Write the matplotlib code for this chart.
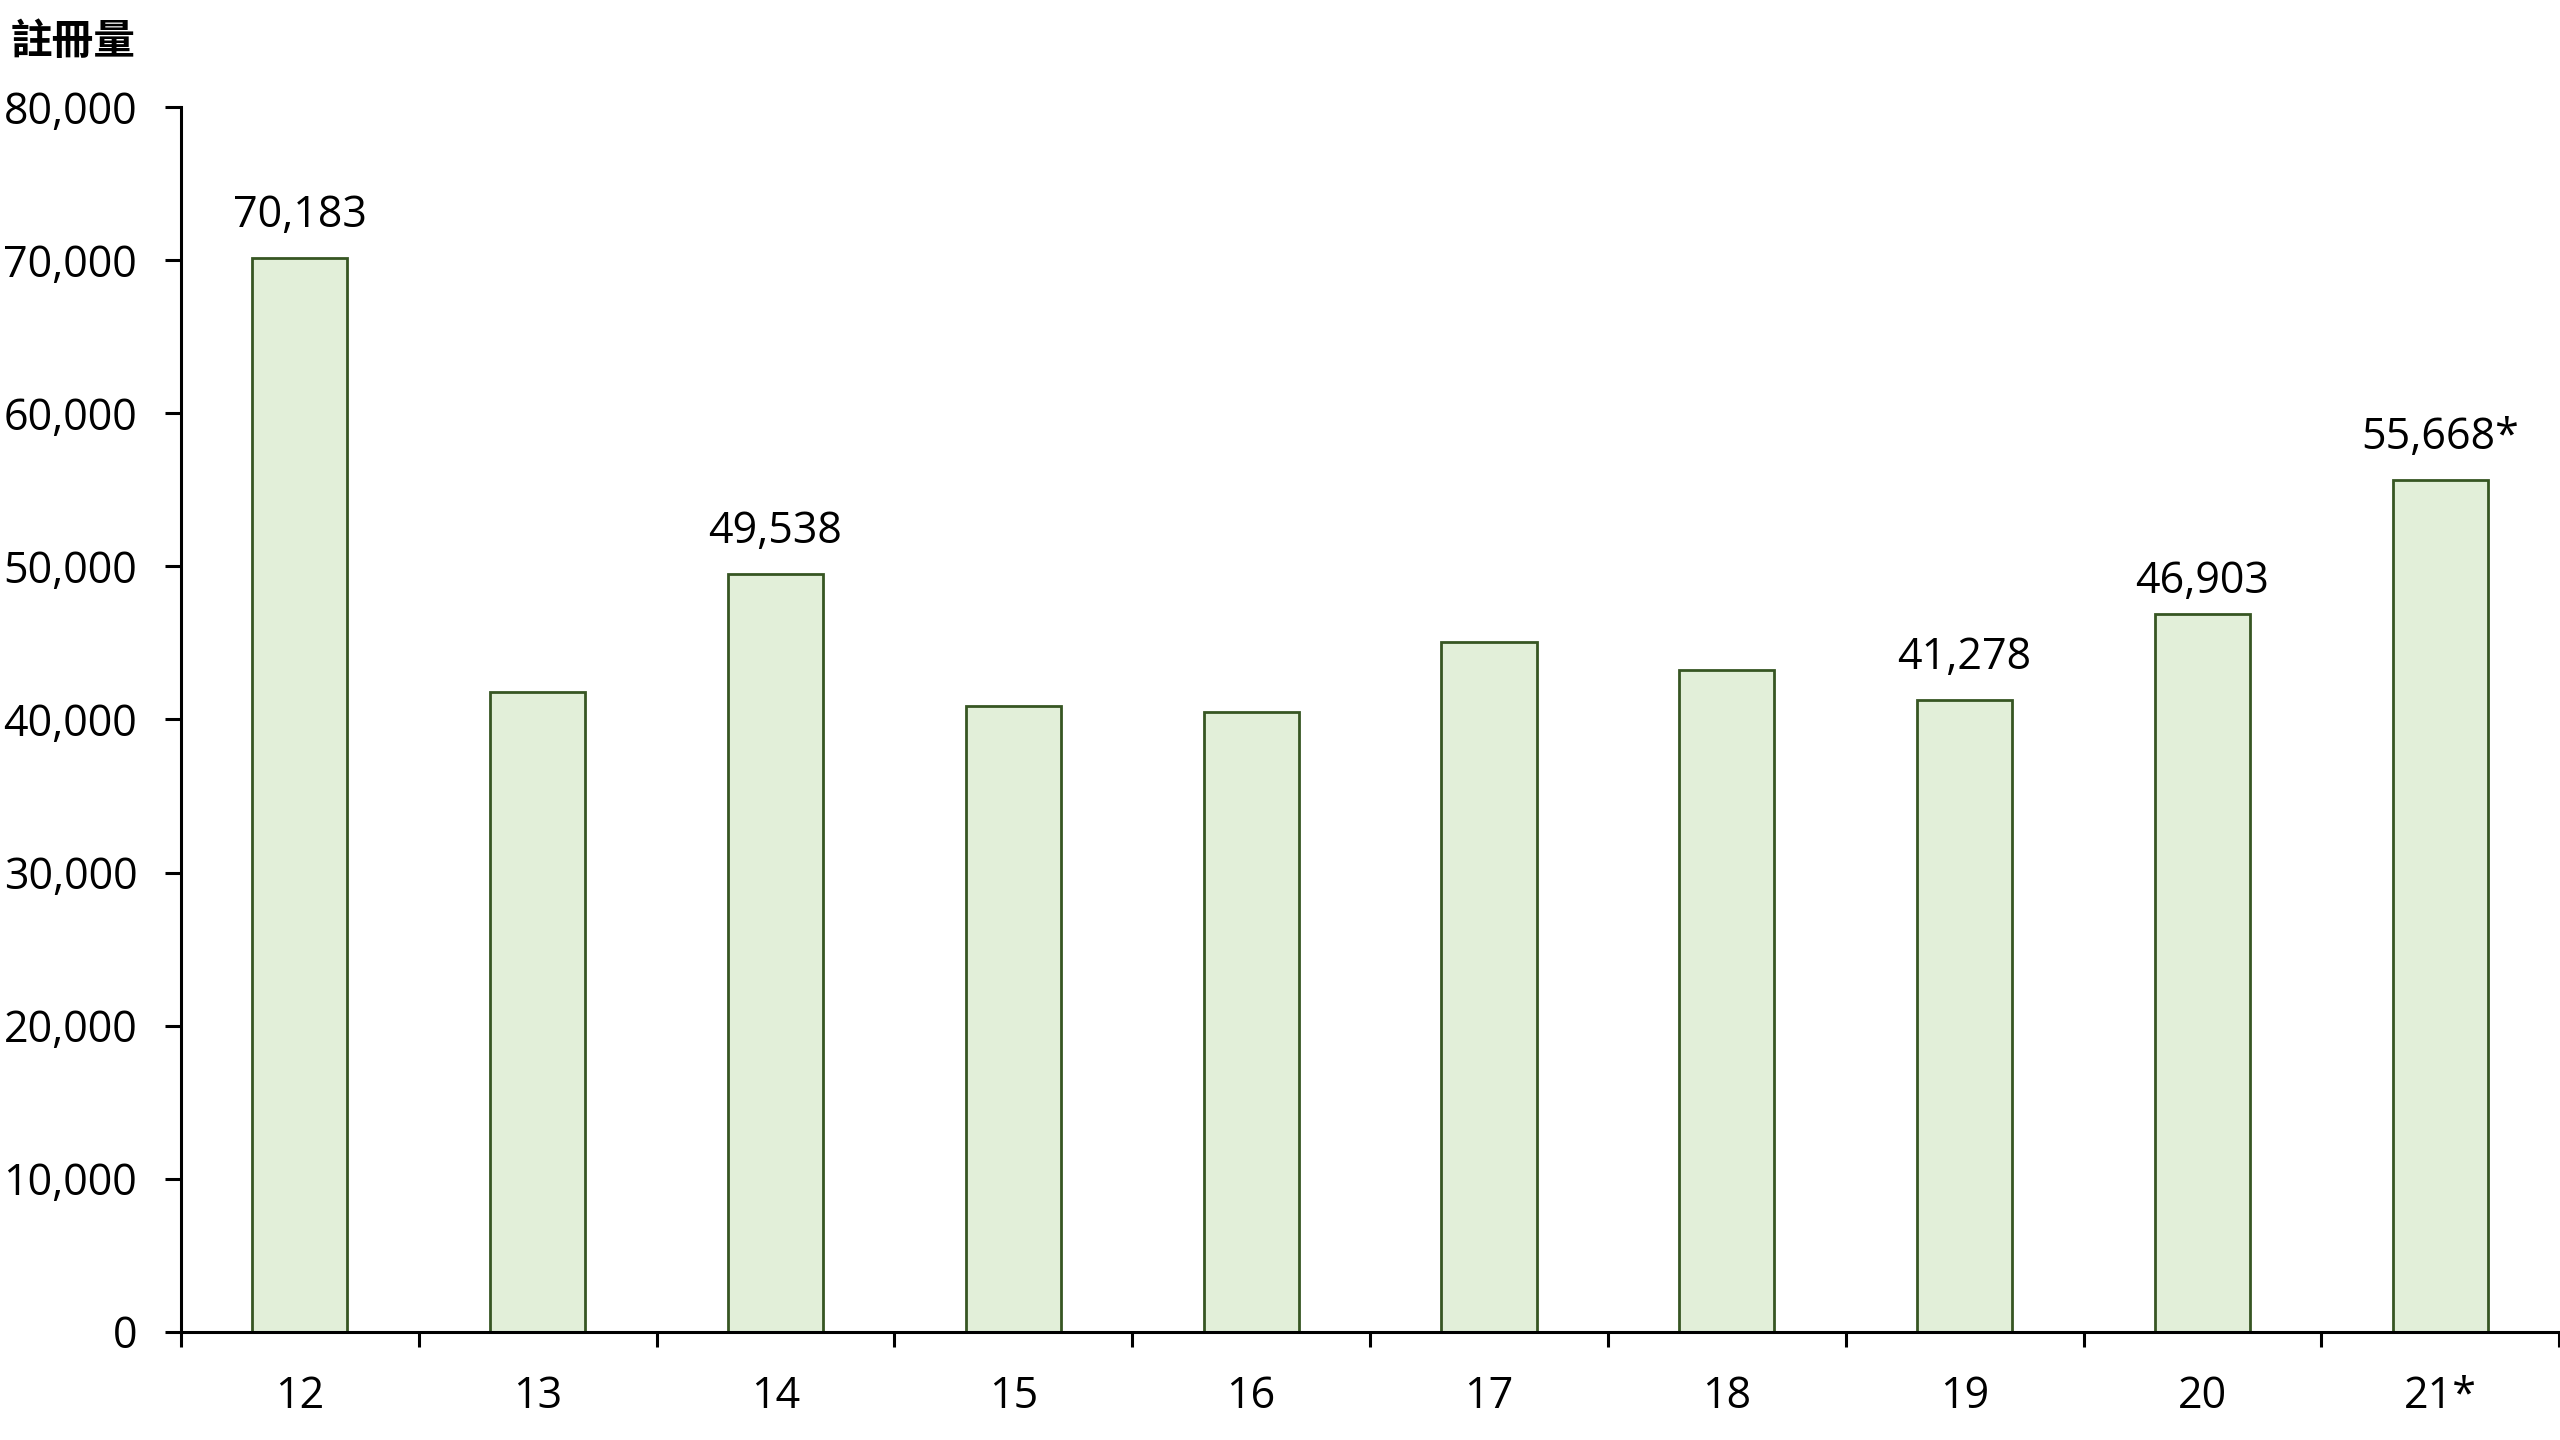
import matplotlib
matplotlib.use("Agg")
import matplotlib.pyplot as plt
from matplotlib.ticker import FuncFormatter, FixedLocator

FILL = "#e2efd9"
EDGE = "#375623"

years = ["12", "13", "14", "15", "16", "17", "18", "19", "20", "21*"]
registrations = [70183, 41776, 49538, 40860, 40470, 45080, 43250, 41278, 46903, 55668]
bar_labels = ["70,183", "", "49,538", "", "", "", "", "41,278", "46,903", "55,668*"]
y_ticks = [0, 10000, 20000, 30000, 40000, 50000, 60000, 70000, 80000]
y_title = "註冊量"

plt.rcParams["font.family"] = ["Open Sans", "DejaVu Sans"]

fig = plt.figure(figsize=(25.6, 14.4), dpi=100)
ax = fig.add_axes([0.0707, 0.0752, 0.9290, 0.8503])

xs = list(range(len(years)))
ax.bar(xs, registrations, width=0.4, color=FILL, edgecolor=EDGE, linewidth=2, zorder=2)

# the label over "20" sits a little closer to its bar in the original
label_gap = {8: 15}
for x, v, lab in zip(xs, registrations, bar_labels):
    if lab:
        ax.annotate(lab, (x, v), xytext=(0, label_gap.get(x, 22)), textcoords="offset points",
                    ha="center", va="baseline", fontsize=31, color="black")

ax.set_xlim(-0.5, len(years) - 0.5)
ax.set_ylim(0, 80000)

# category boundaries carry the tick marks, labels sit at the centres
ax.xaxis.set_major_locator(FixedLocator([i - 0.5 for i in range(len(years) + 1)]))
ax.xaxis.set_minor_locator(FixedLocator(xs))
ax.set_xticklabels([""] * (len(years) + 1))
ax.set_xticklabels(years, minor=True)
ax.tick_params(axis="x", which="major", direction="out", length=11, width=2.2, color="black")
ax.tick_params(axis="x", which="minor", length=0, pad=31, labelsize=31)

ax.set_yticks(y_ticks)
ax.yaxis.set_major_formatter(FuncFormatter(lambda v, _: f"{int(v):,}"))
ax.tick_params(axis="y", direction="out", length=11.5, width=2.2, pad=20, labelsize=31)

for side in ("top", "right"):
    ax.spines[side].set_visible(False)
for side in ("left", "bottom"):
    ax.spines[side].set_linewidth(2.2)
    ax.spines[side].set_color("black")

fig.text(11 / 2560, 1 - 42 / 1440, y_title, ha="left", va="center", fontsize=30,
         fontweight="bold", family=["Noto Sans CJK TC", "DejaVu Sans"])

fig.savefig("out.png", dpi=100)
